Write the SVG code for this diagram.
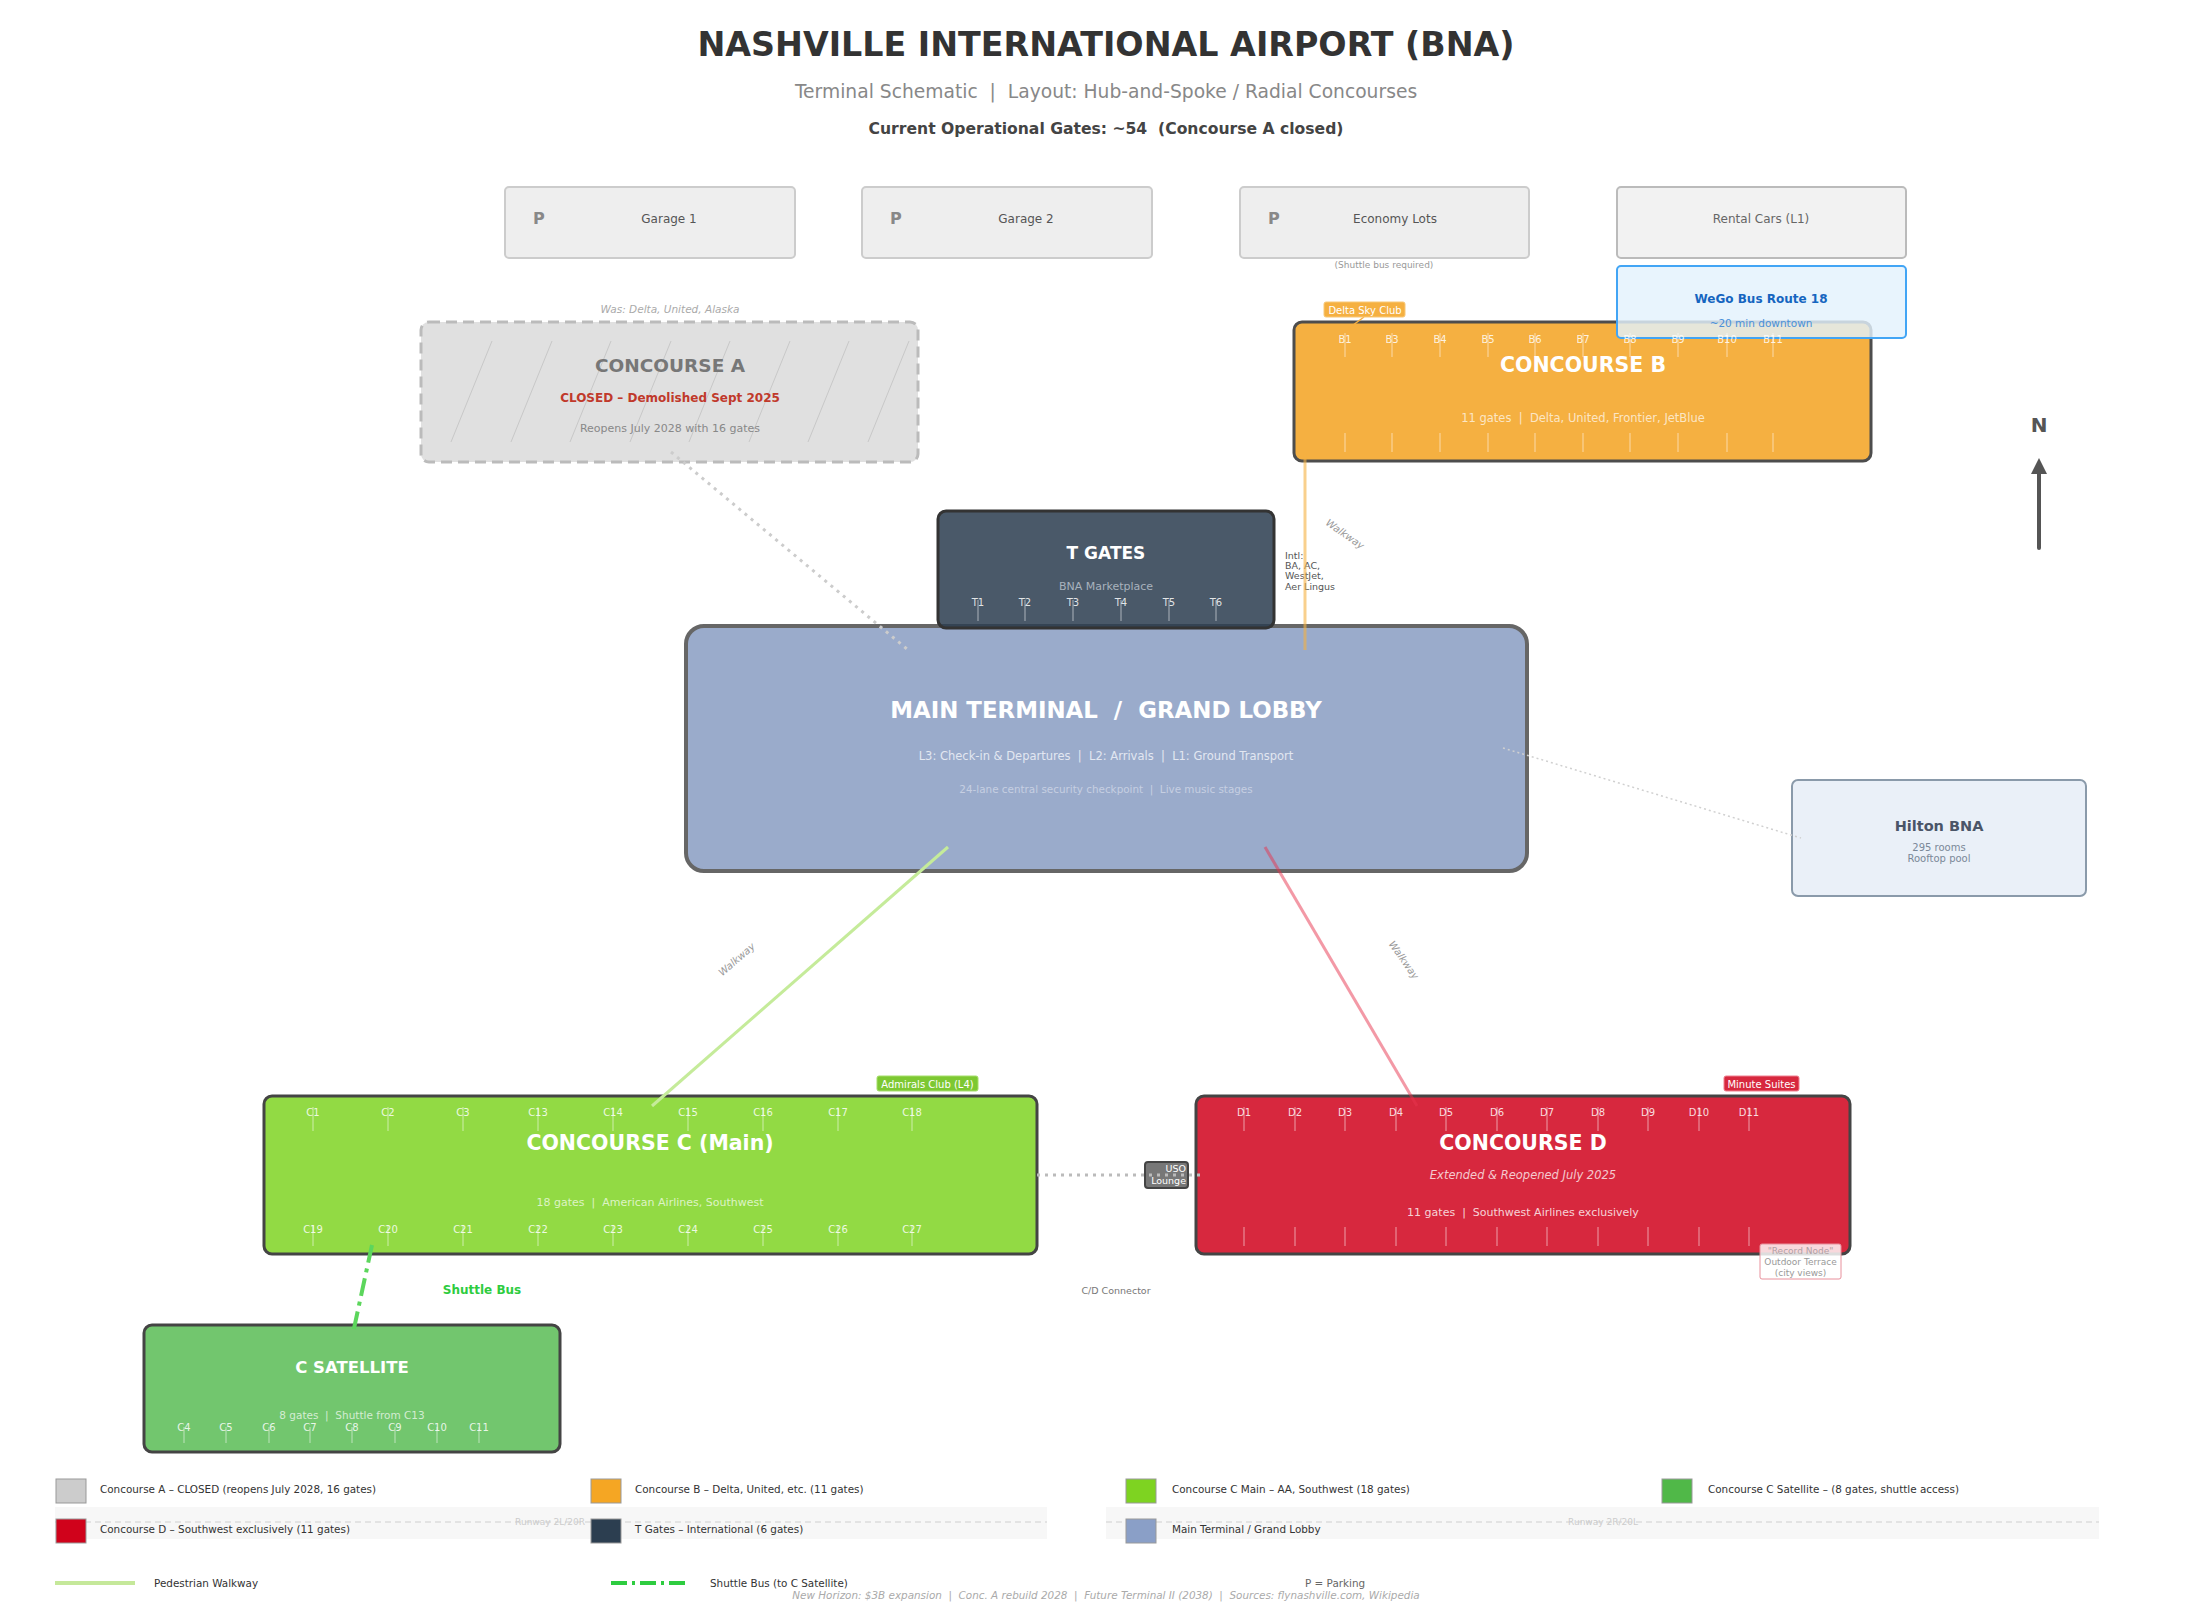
<svg xmlns="http://www.w3.org/2000/svg" width="2212" height="1617" viewBox="0 0 2212 1617" xml:space="preserve">
<defs>
<style>
text{font-family:"DejaVu Sans","Liberation Sans",sans-serif;white-space:pre}
.c{text-anchor:middle}
.b{font-weight:bold}
.park rect{fill:#eeeeee;stroke:#cccccc;stroke-width:2}
.park .p{font-size:16px;font-weight:bold;fill:#888}
.park .l{font-size:12px;fill:#555;text-anchor:middle}
.ttl{font-size:20.5px;font-weight:bold;fill:#fff;text-anchor:middle}
.gl{font-size:10px;fill:#fff;fill-opacity:.85;text-anchor:middle}
.tick{stroke:#fff;stroke-opacity:.55;stroke-width:1}
.tag{font-size:10px;fill:#fff;text-anchor:middle}
.leg{font-size:10.4px;fill:#333}
.sw{stroke:#999;stroke-width:1}
.wk{font-size:10px;fill:#999;font-style:italic;text-anchor:middle}
</style>
<marker id="arr" viewBox="0 0 10 10" refX="5" refY="5" markerWidth="4" markerHeight="4" orient="auto">
<path d="M0,0 L10,5 L0,10 z" fill="#555"/>
</marker>
<clipPath id="clipA"><rect x="421" y="322" width="497" height="140" rx="8"/></clipPath>
</defs>
<rect x="0" y="0" width="2212" height="1617" fill="#fff"/>

<g id="title">
<text class="c b" x="1106" y="56" font-size="33.3" fill="#333">NASHVILLE INTERNATIONAL AIRPORT (BNA)</text>
<text class="c" x="1106" y="98" font-size="18.7" fill="#888">Terminal Schematic  |  Layout: Hub-and-Spoke / Radial Concourses</text>
<text class="c b" x="1106" y="134" font-size="15.6" fill="#444">Current Operational Gates: ~54  (Concourse A closed)</text>
</g>

<g id="garage1" class="park"><rect x="505" y="187" width="290" height="71" rx="4"/><text class="p" x="533" y="224">P</text><text class="l" x="669" y="223">Garage 1</text></g>
<g id="garage2" class="park"><rect x="862" y="187" width="290" height="71" rx="4"/><text class="p" x="890" y="224">P</text><text class="l" x="1026" y="223">Garage 2</text></g>
<g id="economy" class="park"><rect x="1240" y="187" width="289" height="71" rx="4"/><text class="p" x="1268" y="224">P</text><text class="l" x="1395" y="223">Economy Lots</text><text class="c" x="1384" y="268" font-size="9" fill="#999">(Shuttle bus required)</text></g>
<g id="rental"><rect x="1617" y="187" width="289" height="71" rx="4" fill="#f2f2f2" stroke="#bbb" stroke-width="2"/><text class="c" x="1761" y="223" font-size="12" fill="#666">Rental Cars (L1)</text></g>

<g id="concourse-A">
<text class="c" x="670" y="313" font-size="10.5" font-style="italic" fill="#aaa">Was: Delta, United, Alaska</text>
<rect x="421" y="322" width="497" height="140" rx="8" fill="#e0e0e0" stroke="#bbbbbb" stroke-width="3" stroke-dasharray="11,6"/>
<g clip-path="url(#clipA)" stroke="#c8c8c8" stroke-width="1">
<line x1="451" y1="442" x2="492" y2="341"/><line x1="511" y1="442" x2="552" y2="341"/><line x1="570" y1="442" x2="611" y2="341"/><line x1="630" y1="442" x2="671" y2="341"/><line x1="689" y1="442" x2="730" y2="341"/><line x1="749" y1="442" x2="790" y2="341"/><line x1="808" y1="442" x2="849" y2="341"/><line x1="868" y1="442" x2="909" y2="341"/>
</g>
<text class="c b" x="670" y="372" font-size="18.5" fill="#777">CONCOURSE A</text>
<text class="c b" x="670" y="402" font-size="12" fill="#c0392b">CLOSED – Demolished Sept 2025</text>
<text class="c" x="670" y="432" font-size="11" fill="#888">Reopens July 2028 with 16 gates</text>
</g>

<g id="concourse-B">
<rect x="1294" y="322" width="577" height="139" rx="8" fill="#f5b041" stroke="#4d4d4d" stroke-width="3"/>
<text class="ttl" x="1583" y="372">CONCOURSE B</text>
<text class="c" x="1583" y="422" font-size="11.5" fill="#fff" fill-opacity=".7">11 gates  |  Delta, United, Frontier, JetBlue</text>
<g class="tick">
<line x1="1345" y1="433" x2="1345" y2="452"/><line x1="1392" y1="433" x2="1392" y2="452"/><line x1="1440" y1="433" x2="1440" y2="452"/><line x1="1488" y1="433" x2="1488" y2="452"/><line x1="1535" y1="433" x2="1535" y2="452"/><line x1="1583" y1="433" x2="1583" y2="452"/><line x1="1630" y1="433" x2="1630" y2="452"/><line x1="1678" y1="433" x2="1678" y2="452"/><line x1="1727" y1="433" x2="1727" y2="452"/><line x1="1773" y1="433" x2="1773" y2="452"/>
</g>
<line x1="1364" y1="317" x2="1345" y2="331" stroke="#f5b041" stroke-width="1.5"/>
<rect x="1324" y="302" width="81" height="15" rx="2" fill="#f5b041" stroke="#f8c878" stroke-width="1"/>
<text class="tag" x="1365" y="313.5">Delta Sky Club</text>
</g>

<g id="wego-bus">
<rect x="1617" y="266" width="289" height="72" rx="4" fill="#e3f2fd" fill-opacity=".82" stroke="#42a5f5" stroke-width="2"/>
<text class="c b" x="1761" y="303" font-size="12" fill="#1565c0">WeGo Bus Route 18</text>
<text class="c" x="1761" y="327" font-size="10.5" fill="#4a90d9">~20 min downtown</text>
</g>

<g id="concourse-B-gates">
<g class="tick">
<line x1="1345" y1="333" x2="1345" y2="357"/><line x1="1392" y1="333" x2="1392" y2="357"/><line x1="1440" y1="333" x2="1440" y2="357"/><line x1="1488" y1="333" x2="1488" y2="357"/><line x1="1535" y1="333" x2="1535" y2="357"/><line x1="1583" y1="333" x2="1583" y2="357"/><line x1="1630" y1="333" x2="1630" y2="357"/><line x1="1678" y1="333" x2="1678" y2="357"/><line x1="1727" y1="333" x2="1727" y2="357"/><line x1="1773" y1="333" x2="1773" y2="357"/>
</g>
<text class="gl" x="1345" y="343">B1</text><text class="gl" x="1392" y="343">B3</text><text class="gl" x="1440" y="343">B4</text><text class="gl" x="1488" y="343">B5</text><text class="gl" x="1535" y="343">B6</text><text class="gl" x="1583" y="343">B7</text><text class="gl" x="1630" y="343">B8</text><text class="gl" x="1678" y="343">B9</text><text class="gl" x="1727" y="343">B10</text><text class="gl" x="1773" y="343">B11</text>
</g>

<g id="north">
<text class="c b" x="2039" y="432" font-size="20" fill="#555">N</text>
<line x1="2039" y1="548" x2="2039" y2="466" stroke="#555" stroke-width="4" stroke-linecap="round" marker-end="url(#arr)"/>
</g>

<g id="main-terminal">
<rect x="686" y="626" width="841" height="245" rx="18" fill="#9aabcb" stroke="#666" stroke-width="4"/>
<text class="c b" x="1106" y="718" font-size="22.9" fill="#fff">MAIN TERMINAL  /  GRAND LOBBY</text>
<text class="c" x="1106" y="760" font-size="11.5" fill="#e2e7f1">L3: Check-in &amp; Departures  |  L2: Arrivals  |  L1: Ground Transport</text>
<text class="c" x="1106" y="793" font-size="10.4" fill="#c6cfe2">24-lane central security checkpoint  |  Live music stages</text>
</g>

<g id="t-gates">
<rect x="938" y="511" width="336" height="117" rx="8" fill="#2c3e50" fill-opacity=".86" stroke="#333" stroke-width="3"/>
<text class="c b" x="1106" y="559" font-size="17" fill="#fff">T GATES</text>
<text class="c" x="1106" y="590" font-size="11" fill="#a8b2bd">BNA Marketplace</text>
<g class="tick">
<line x1="978" y1="600" x2="978" y2="621"/><line x1="1025" y1="600" x2="1025" y2="621"/><line x1="1073" y1="600" x2="1073" y2="621"/><line x1="1121" y1="600" x2="1121" y2="621"/><line x1="1169" y1="600" x2="1169" y2="621"/><line x1="1216" y1="600" x2="1216" y2="621"/>
</g>
<text class="gl" x="978" y="606">T1</text><text class="gl" x="1025" y="606">T2</text><text class="gl" x="1073" y="606">T3</text><text class="gl" x="1121" y="606">T4</text><text class="gl" x="1169" y="606">T5</text><text class="gl" x="1216" y="606">T6</text>
<text x="1285" y="559" font-size="9.5" fill="#555">Intl:</text>
<text x="1285" y="569" font-size="9.5" fill="#555">BA, AC,</text>
<text x="1285" y="579" font-size="9.5" fill="#555">WestJet,</text>
<text x="1285" y="590" font-size="9.5" fill="#555">Aer Lingus</text>
</g>

<g id="hilton">
<rect x="1792" y="780" width="294" height="116" rx="6" fill="#eaf0f8" stroke="#8a9aaa" stroke-width="2"/>
<text class="c b" x="1939" y="831" font-size="14.5" fill="#4a5568">Hilton BNA</text>
<text class="c" x="1939" y="851" font-size="10" fill="#7a8898">295 rooms</text>
<text class="c" x="1939" y="862" font-size="10" fill="#7a8898">Rooftop pool</text>
</g>

<g id="concourse-C">
<rect x="264" y="1096" width="773" height="158" rx="8" fill="#92da44" stroke="#444" stroke-width="3"/>
<text class="ttl" x="650" y="1150">CONCOURSE C (Main)</text>
<text class="c" x="650" y="1206" font-size="11" fill="#fff" fill-opacity=".7">18 gates  |  American Airlines, Southwest</text>
<g class="tick">
<line x1="313" y1="1107" x2="313" y2="1131"/><line x1="388" y1="1107" x2="388" y2="1131"/><line x1="463" y1="1107" x2="463" y2="1131"/><line x1="538" y1="1107" x2="538" y2="1131"/><line x1="613" y1="1107" x2="613" y2="1131"/><line x1="688" y1="1107" x2="688" y2="1131"/><line x1="763" y1="1107" x2="763" y2="1131"/><line x1="838" y1="1107" x2="838" y2="1131"/><line x1="912" y1="1107" x2="912" y2="1131"/>
<line x1="313" y1="1225" x2="313" y2="1246"/><line x1="388" y1="1225" x2="388" y2="1246"/><line x1="463" y1="1225" x2="463" y2="1246"/><line x1="538" y1="1225" x2="538" y2="1246"/><line x1="613" y1="1225" x2="613" y2="1246"/><line x1="688" y1="1225" x2="688" y2="1246"/><line x1="763" y1="1225" x2="763" y2="1246"/><line x1="838" y1="1225" x2="838" y2="1246"/><line x1="912" y1="1225" x2="912" y2="1246"/>
</g>
<text class="gl" x="313" y="1116">C1</text><text class="gl" x="388" y="1116">C2</text><text class="gl" x="463" y="1116">C3</text><text class="gl" x="538" y="1116">C13</text><text class="gl" x="613" y="1116">C14</text><text class="gl" x="688" y="1116">C15</text><text class="gl" x="763" y="1116">C16</text><text class="gl" x="838" y="1116">C17</text><text class="gl" x="912" y="1116">C18</text>
<text class="gl" x="313" y="1233">C19</text><text class="gl" x="388" y="1233">C20</text><text class="gl" x="463" y="1233">C21</text><text class="gl" x="538" y="1233">C22</text><text class="gl" x="613" y="1233">C23</text><text class="gl" x="688" y="1233">C24</text><text class="gl" x="763" y="1233">C25</text><text class="gl" x="838" y="1233">C26</text><text class="gl" x="912" y="1233">C27</text>
<rect x="877" y="1076" width="101" height="15" rx="2" fill="#7dc832" stroke="#a6de6a" stroke-width="1"/>
<text class="tag" x="927.5" y="1087.5">Admirals Club (L4)</text>
</g>

<g id="concourse-D">
<rect x="1196" y="1096" width="654" height="158" rx="8" fill="#d7283e" stroke="#444" stroke-width="3"/>
<text class="ttl" x="1523" y="1150">CONCOURSE D</text>
<text class="c" x="1523" y="1179" font-size="11.5" font-style="italic" fill="#fff" fill-opacity=".75">Extended &amp; Reopened July 2025</text>
<text class="c" x="1523" y="1216" font-size="11" fill="#fff" fill-opacity=".8">11 gates  |  Southwest Airlines exclusively</text>
<g class="tick">
<line x1="1244" y1="1107" x2="1244" y2="1131"/><line x1="1295" y1="1107" x2="1295" y2="1131"/><line x1="1345" y1="1107" x2="1345" y2="1131"/><line x1="1396" y1="1107" x2="1396" y2="1131"/><line x1="1446" y1="1107" x2="1446" y2="1131"/><line x1="1497" y1="1107" x2="1497" y2="1131"/><line x1="1547" y1="1107" x2="1547" y2="1131"/><line x1="1598" y1="1107" x2="1598" y2="1131"/><line x1="1648" y1="1107" x2="1648" y2="1131"/><line x1="1699" y1="1107" x2="1699" y2="1131"/><line x1="1749" y1="1107" x2="1749" y2="1131"/>
<line x1="1244" y1="1227" x2="1244" y2="1246"/><line x1="1295" y1="1227" x2="1295" y2="1246"/><line x1="1345" y1="1227" x2="1345" y2="1246"/><line x1="1396" y1="1227" x2="1396" y2="1246"/><line x1="1446" y1="1227" x2="1446" y2="1246"/><line x1="1497" y1="1227" x2="1497" y2="1246"/><line x1="1547" y1="1227" x2="1547" y2="1246"/><line x1="1598" y1="1227" x2="1598" y2="1246"/><line x1="1648" y1="1227" x2="1648" y2="1246"/><line x1="1699" y1="1227" x2="1699" y2="1246"/><line x1="1749" y1="1227" x2="1749" y2="1246"/>
</g>
<text class="gl" x="1244" y="1116">D1</text><text class="gl" x="1295" y="1116">D2</text><text class="gl" x="1345" y="1116">D3</text><text class="gl" x="1396" y="1116">D4</text><text class="gl" x="1446" y="1116">D5</text><text class="gl" x="1497" y="1116">D6</text><text class="gl" x="1547" y="1116">D7</text><text class="gl" x="1598" y="1116">D8</text><text class="gl" x="1648" y="1116">D9</text><text class="gl" x="1699" y="1116">D10</text><text class="gl" x="1749" y="1116">D11</text>
<rect x="1724" y="1076" width="75" height="15" rx="2" fill="#d7283e" stroke="#f08090" stroke-width="1"/>
<text class="tag" x="1761.5" y="1087.5">Minute Suites</text>
</g>

<g id="record-node">
<rect x="1760" y="1244" width="81" height="35" rx="2" fill="#fff" fill-opacity=".82" stroke="#e8909c" stroke-width="1"/>
<text class="c" x="1800.5" y="1253.5" font-size="9" fill="#b0a0a4">"Record Node"</text>
<text class="c" x="1800.5" y="1264.5" font-size="9" fill="#999">Outdoor Terrace</text>
<text class="c" x="1800.5" y="1275.5" font-size="9" fill="#999">(city views)</text>
</g>

<g id="c-satellite">
<rect x="144" y="1325" width="416" height="127" rx="8" fill="#72c66e" stroke="#444" stroke-width="3"/>
<text class="c b" x="352" y="1373" font-size="16.5" fill="#fff">C SATELLITE</text>
<text class="c" x="352" y="1419" font-size="10.5" fill="#fff" fill-opacity=".7">8 gates  |  Shuttle from C13</text>
<g class="tick">
<line x1="184" y1="1427" x2="184" y2="1443"/><line x1="226" y1="1427" x2="226" y2="1443"/><line x1="269" y1="1427" x2="269" y2="1443"/><line x1="310" y1="1427" x2="310" y2="1443"/><line x1="352" y1="1427" x2="352" y2="1443"/><line x1="395" y1="1427" x2="395" y2="1443"/><line x1="437" y1="1427" x2="437" y2="1443"/><line x1="479" y1="1427" x2="479" y2="1443"/>
</g>
<text class="gl" x="184" y="1431">C4</text><text class="gl" x="226" y="1431">C5</text><text class="gl" x="269" y="1431">C6</text><text class="gl" x="310" y="1431">C7</text><text class="gl" x="352" y="1431">C8</text><text class="gl" x="395" y="1431">C9</text><text class="gl" x="437" y="1431">C10</text><text class="gl" x="479" y="1431">C11</text>
</g>

<g id="uso-lounge">
<rect x="1145" y="1162" width="43" height="26" rx="3" fill="#777" stroke="#444" stroke-width="2"/>
<text x="1186" y="1172" font-size="9.5" fill="#fff" text-anchor="end">USO</text>
<text x="1186" y="1184" font-size="9.5" fill="#fff" text-anchor="end">Lounge</text>
</g>

<g id="connectors" fill="none">
<line x1="671" y1="452" x2="907" y2="649" stroke="#cccccc" stroke-width="3" stroke-dasharray="3,5"/>
<line x1="1503" y1="748" x2="1801" y2="838" stroke="#d0d0d0" stroke-width="1.5" stroke-dasharray="2,3"/>
<line x1="1305" y1="452" x2="1305" y2="650" stroke="#f5b041" stroke-opacity=".6" stroke-width="3"/>
<line x1="948" y1="847" x2="652" y2="1106" stroke="#c5eb9a" stroke-width="3"/>
<line x1="1265" y1="847" x2="1417" y2="1106" stroke="#e8334d" stroke-opacity=".5" stroke-width="3"/>
<line x1="1037" y1="1175" x2="1200" y2="1175" stroke="#bbbbbb" stroke-width="3" stroke-dasharray="3,5"/>
<line x1="372" y1="1245" x2="353" y2="1333" stroke="#5cd65c" stroke-width="4" stroke-dasharray="18,6,4,6"/>
<text class="wk" transform="translate(1343,537) rotate(35)">Walkway</text>
<text class="wk" transform="translate(739,962) rotate(-41)">Walkway</text>
<text class="wk" transform="translate(1401,962) rotate(55)">Walkway</text>
<text class="c" x="1116" y="1294" font-size="9.5" fill="#777">C/D Connector</text>
<text class="c b" x="482" y="1294" font-size="12" fill="#2ecc40">Shuttle Bus</text>
</g>

<g id="legend">
<rect x="55" y="1507" width="992" height="32" fill="#f7f7f7"/>
<line x1="55" y1="1522" x2="1047" y2="1522" stroke="#dddddd" stroke-width="1.5" stroke-dasharray="6,4"/>
<text class="c" x="550" y="1525" font-size="9" fill="#ccc">Runway 2L/20R</text>
<rect x="1106" y="1507" width="993" height="32" fill="#f7f7f7"/>
<line x1="1106" y1="1522" x2="2099" y2="1522" stroke="#dddddd" stroke-width="1.5" stroke-dasharray="6,4"/>
<text class="c" x="1603" y="1525" font-size="9" fill="#ccc">Runway 2R/20L</text>

<rect class="sw" x="56" y="1479" width="30" height="24" fill="#cccccc"/>
<text class="leg" x="100" y="1493">Concourse A – CLOSED (reopens July 2028, 16 gates)</text>
<rect class="sw" x="591" y="1479" width="30" height="24" fill="#f5a623"/>
<text class="leg" x="635" y="1493">Concourse B – Delta, United, etc. (11 gates)</text>
<rect class="sw" x="1126" y="1479" width="30" height="24" fill="#7ed321"/>
<text class="leg" x="1172" y="1493">Concourse C Main – AA, Southwest (18 gates)</text>
<rect class="sw" x="1662" y="1479" width="30" height="24" fill="#50b848"/>
<text class="leg" x="1708" y="1493">Concourse C Satellite – (8 gates, shuttle access)</text>

<rect class="sw" x="56" y="1519" width="30" height="24" fill="#d0021b"/>
<text class="leg" x="100" y="1533">Concourse D – Southwest exclusively (11 gates)</text>
<rect class="sw" x="591" y="1519" width="30" height="24" fill="#2c3e50"/>
<text class="leg" x="635" y="1533">T Gates – International (6 gates)</text>
<rect class="sw" x="1126" y="1519" width="30" height="24" fill="#8a9fc7"/>
<text class="leg" x="1172" y="1533">Main Terminal / Grand Lobby</text>

<line x1="55" y1="1583" x2="135" y2="1583" stroke="#c5e89a" stroke-width="4"/>
<text class="leg" x="154" y="1587">Pedestrian Walkway</text>
<line x1="611" y1="1583" x2="689" y2="1583" stroke="#2ecc40" stroke-width="4" stroke-dasharray="16,5,3,5"/>
<text class="leg" x="710" y="1587">Shuttle Bus (to C Satellite)</text>
<text x="1305" y="1587" font-size="10.4" fill="#666">P = Parking</text>
<text class="c" x="1106" y="1599" font-size="10.4" font-style="italic" fill="#aaa">New Horizon: $3B expansion  |  Conc. A rebuild 2028  |  Future Terminal II (2038)  |  Sources: flynashville.com, Wikipedia</text>
</g>
</svg>
